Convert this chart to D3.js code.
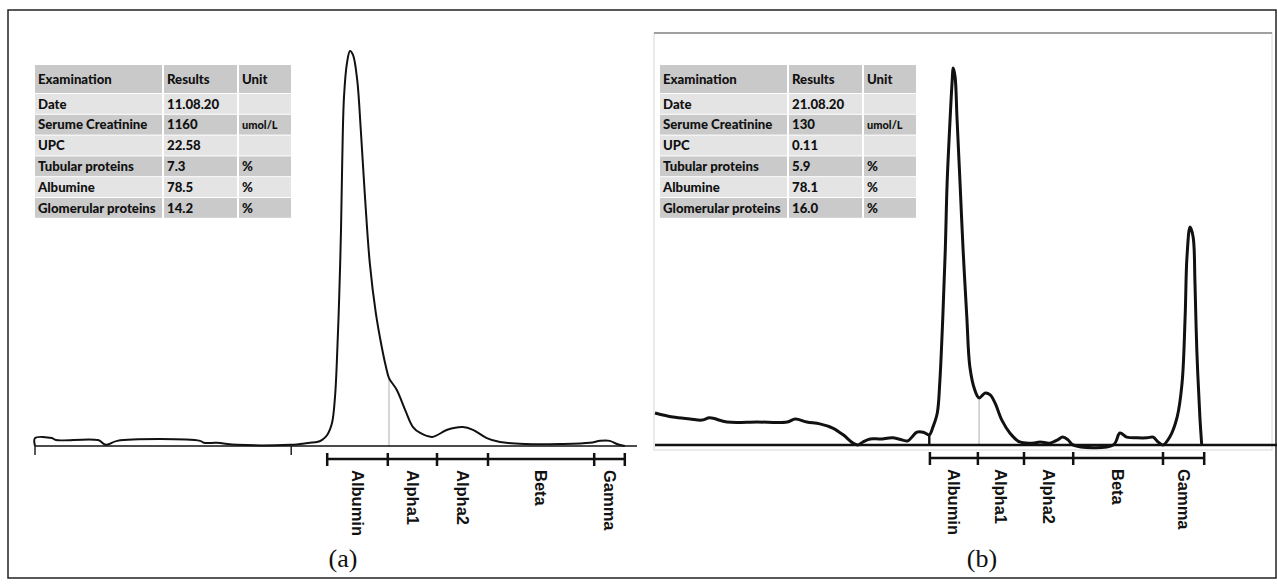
<!DOCTYPE html>
<html>
<head>
<meta charset="utf-8">
<script src="https://cdn.jsdelivr.net/npm/d3@7"></script>
<style>
  body { margin: 0; background: #fff; }
  svg { display: block; }
</style>
</head>
<body>
<div id="chart"></div>
<script>
// Electrophoresis fractions and their boundaries (mobility units, 0-100)
const fractions = ["Albumin", "Alpha1", "Alpha2", "Beta", "Gamma"];
const boundsA = [48.7, 58.8, 67, 75.5, 93.2, 98.3];
const boundsB = [44.7, 52.5, 60, 68, 82.6, 89.3];

// Densitometry trace (a), 11.08.20
const mobilityA = [0, 0, 2.8, 3.5, 10.5, 11.8, 13.7, 27.5, 28.2, 30.3, 33.7, 42.5, 44.2, 45.8, 47,
  47.8, 48.7, 49.5, 50, 50.3, 50.7, 51, 51.2, 51.5, 52, 52.5, 53, 53.7, 54.3, 55, 55.8, 56.8,
  57.8, 58.5, 59, 60.3, 61.7, 63, 64.2, 66.2, 68.7, 71.3, 73, 75.3, 77.5, 81.8, 87.5, 92.5,
  94.2, 95.8, 97, 98.3];
const densityA = [0, 2.0, 2.0, 1.5, 1.5, 0.3, 1.3, 1.3, 0.8, 0.8, 0.3, 0.3, 0.5, 0.8, 1.0,
  1.5, 2.8, 5.8, 12.4, 21, 37.7, 54.7, 71.6, 88.4, 97, 100, 99, 92.7, 80, 63, 46.3, 33.7,
  25, 20, 17.2, 14.2, 9.1, 4.8, 3.3, 2.3, 4.1, 4.8, 4.1, 2.0, 1.0, 0.5, 0.5, 0.8,
  1.3, 1.3, 0.5, 0];

// Densitometry trace (b), 21.08.20
const mobilityB = [0, 2.9, 5.7, 7.6, 8.9, 11.7, 16.6, 21.5, 22.8, 24.7, 26.8, 28.9, 30.6, 32.2,
  33, 33.8, 35, 36.6, 38.7, 40.3, 41.1, 42.6, 43.6, 44.6, 45.2, 45.9, 46.3, 46.8, 47.2, 47.5,
  48, 48.3, 48.5, 48.8, 49.1, 49.6, 50.1, 50.7, 51.2, 52, 52.7, 53.7, 54.5, 55.3, 56.4, 57.7,
  59.3, 61.5, 62.6, 64.2, 65.4, 66.3, 67.2, 68, 74.5, 75.6, 76.7, 78.4, 80, 81, 81.8, 82.6,
  83.7, 84.9, 85.7, 86.2, 86.5, 87, 87.5, 87.8, 88.1, 88.6, 88.9];
const densityB = [8.5, 7.4, 6.9, 6.6, 7.2, 6.1, 6.1, 6.1, 6.9, 6.1, 5.6, 4.5, 2.7, 0.5,
  0, 0.8, 1.6, 1.6, 1.9, 1.3, 1.1, 3.4, 3.4, 2.7, 4.8, 8.5, 16.4, 34, 51.7, 69.5,
  87, 96, 100, 97.6, 87, 69.5, 51.7, 34, 20.7, 14.6, 12.5, 13.8, 13.3, 11.1, 6.6, 3.2,
  0.8, 0.5, 0.8, 0.5, 1.3, 2.1, 1.3, 0, 0, 3.2, 2.1, 1.9, 1.9, 2.1, 0.8, 0,
  2.1, 7.4, 16.4, 34, 49.9, 57.8, 55.2, 43, 25.2, 7.4, 0];

// dividers drawn from baseline up to the trace: [mobility, density]
const splitsA = [[59, 17.2]];
const splitsB = [[44.6, 2.7], [52.7, 12.5]];
const baseTicksA = [0, 42.7];

// results tables
const tableHeader = ["Examination", "Results", "Unit"];
const examinations = ["Date", "Serume Creatinine", "UPC", "Tubular proteins", "Albumine", "Glomerular proteins"];
const resultsA = ["11.08.20", "1160", "22.58", "7.3", "78.5", "14.2"];
const resultsB = ["21.08.20", "130", "0.11", "5.9", "78.1", "16.0"];
const units = ["", "umol/L", "", "%", "%", "%"];

const W = 1277, H = 584;

let svg = d3.select("#chart").append("svg")
  .attr("width", W)
  .attr("height", H);

// outer frame
svg.append("rect")
  .attr("x", 8).attr("y", 10)
  .attr("width", 1268).attr("height", 568)
  .attr("fill", "none")
  .attr("stroke", "#222")
  .attr("stroke-width", 1.5);

// light frame round panel (b)
svg.append("rect")
  .attr("x", 654).attr("y", 33)
  .attr("width", 618).attr("height", 417)
  .attr("fill", "none")
  .attr("stroke", "#d8d8d8")
  .attr("stroke-width", 1);
svg.append("line")
  .attr("x1", 654).attr("x2", 1272).attr("y1", 33).attr("y2", 33)
  .attr("stroke", "#a0a0a0").attr("stroke-width", 2);

function drawTable(x0, y0, results) {
  let g = svg.append("g").attr("transform", "translate(" + x0 + "," + y0 + ")");
  let colX = [0, 129, 204];
  let colW = [127, 73, 52];
  let headH = 28, rowStep = 20.8, rowH = 19.8;
  let font = "'Lato', 'Liberation Sans', sans-serif";

  let rows = [tableHeader].concat(examinations.map((e, i) => [e, results[i], units[i]]));

  rows.forEach(function(r, i) {
    let top = i === 0 ? 0 : headH + 1 + (i - 1) * rowStep;
    let h = i === 0 ? headH : rowH;
    let fill = i === 0 ? "#c9c9c9" : (i % 2 === 1 ? "#e4e4e4" : "#cacaca");
    r.forEach(function(cell, j) {
      g.append("rect")
        .attr("x", colX[j]).attr("y", top)
        .attr("width", colW[j]).attr("height", h)
        .attr("fill", fill);
      g.append("text")
        .attr("x", colX[j] + 3)
        .attr("y", top + h / 2)
        .attr("dy", "0.36em")
        .attr("font-family", font)
        .attr("font-weight", "900")
        .attr("font-size", cell === "umol/L" ? 11 : 13.2)
        .attr("fill", "#111")
        .text(cell);
    });
  });
}

function drawPanel(p) {
  let x = d3.scaleLinear().domain([0, 100]).range(p.xRange);
  let y = d3.scaleLinear().domain([0, 100]).range(p.yRange);
  let base = y(0);

  let g = svg.append("g");

  // dividers
  p.splits.forEach(function(s, i) {
    g.append("line")
      .attr("x1", x(s[0])).attr("x2", x(s[0]))
      .attr("y1", base).attr("y2", y(s[1]))
      .attr("stroke", i === p.splits.length - 1 ? "#c8c8c8" : "#111")
      .attr("stroke-width", i === p.splits.length - 1 ? 1.5 : p.curveWidth * 0.8);
  });

  // baseline
  g.append("line")
    .attr("x1", x(0)).attr("x2", p.baseEnd)
    .attr("y1", base).attr("y2", base)
    .attr("stroke", "#111")
    .attr("stroke-width", p.baseWidth);

  p.baseTicks.forEach(function(t) {
    g.append("line")
      .attr("x1", x(t)).attr("x2", x(t))
      .attr("y1", base).attr("y2", base + 9)
      .attr("stroke", "#222").attr("stroke-width", 1.5);
  });

  // trace
  let pts = p.mobility.map((m, i) => [m, p.density[i]]);
  let line = d3.line()
    .x(d => x(d[0]))
    .y(d => y(d[1]))
    .curve(d3.curveCatmullRom.alpha(0.5));

  g.append("path")
    .datum(pts)
    .attr("d", line)
    .attr("fill", "none")
    .attr("stroke", "#111")
    .attr("stroke-width", p.curveWidth)
    .attr("stroke-linejoin", "round");

  // fraction bracket
  let by = base + 13;
  g.append("line")
    .attr("x1", x(p.bounds[0])).attr("x2", x(p.bounds[p.bounds.length - 1]))
    .attr("y1", by).attr("y2", by)
    .attr("stroke", "#111").attr("stroke-width", 2.5);

  g.selectAll("line.btick")
    .data(p.bounds)
    .enter()
    .append("line")
    .attr("class", "btick")
    .attr("x1", d => x(d)).attr("x2", d => x(d))
    .attr("y1", by - 6).attr("y2", by + 7)
    .attr("stroke", "#111").attr("stroke-width", 2.5);

  g.selectAll("text.frac")
    .data(fractions)
    .enter()
    .append("text")
    .attr("class", "frac")
    .attr("transform", (d, i) =>
      "translate(" + x((p.bounds[i] + p.bounds[i + 1]) / 2) + "," + (by + 11) + ") rotate(90)")
    .attr("dy", "0.35em")
    .attr("font-family", "'Liberation Sans', Arial, sans-serif")
    .attr("font-weight", "bold")
    .attr("font-size", 16.5)
    .attr("fill", "#111")
    .text(d => d);

  // caption
  svg.append("text")
    .attr("x", p.captionX)
    .attr("y", 567)
    .attr("text-anchor", "middle")
    .attr("font-family", "'Liberation Serif', 'Times New Roman', serif")
    .attr("font-size", 26)
    .attr("fill", "#111")
    .text(p.caption);

  drawTable(p.tableX, 65, p.results);
}

drawPanel({
  xRange: [35, 635], yRange: [446, 51], baseEnd: 637,
  mobility: mobilityA, density: densityA, bounds: boundsA,
  splits: splitsA, baseTicks: baseTicksA,
  curveWidth: 2, baseWidth: 1.5,
  caption: "(a)", captionX: 343,
  tableX: 35, results: resultsA
});

drawPanel({
  xRange: [655, 1270], yRange: [445, 68], baseEnd: W,
  mobility: mobilityB, density: densityB, bounds: boundsB,
  splits: splitsB, baseTicks: [],
  curveWidth: 3, baseWidth: 2.5,
  caption: "(b)", captionX: 982,
  tableX: 660, results: resultsB
});
</script>
</body>
</html>
